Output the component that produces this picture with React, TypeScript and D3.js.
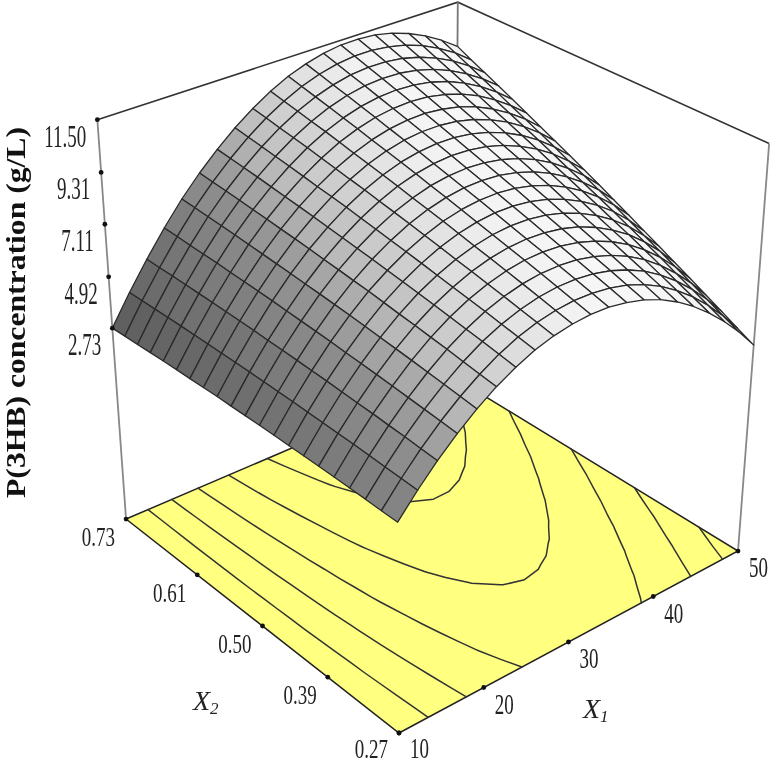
import * as d3 from "d3";

// response surface: rows are X1 = 10..50, columns are X2 = 0.27..0.73
const x1Grid = d3.range(21).map((i) => 10 + 2 * i);
const x2Grid = d3.range(21).map((j) => 0.27 + 0.023 * j);
const zGrid = [
  [2.87,2.88,2.90,2.91,2.92,2.93,2.93,2.93,2.93,2.93,2.92,2.91,2.91,2.89,2.87,2.86,2.84,2.81,2.78,2.76,2.73],
  [3.76,3.79,3.82,3.85,3.88,3.90,3.92,3.94,3.96,3.97,3.98,3.99,4.00,4.00,4.00,4.00,4.00,3.99,3.98,3.97,3.96],
  [4.56,4.61,4.66,4.70,4.75,4.78,4.82,4.86,4.89,4.92,4.95,4.97,5.00,5.02,5.03,5.05,5.06,5.07,5.08,5.08,5.09],
  [5.27,5.34,5.40,5.46,5.52,5.58,5.63,5.68,5.74,5.78,5.82,5.86,5.91,5.94,5.97,6.00,6.04,6.06,6.08,6.11,6.13],
  [5.89,5.97,6.05,6.13,6.21,6.28,6.35,6.42,6.49,6.55,6.61,6.66,6.72,6.77,6.82,6.87,6.92,6.96,7.00,7.04,7.08],
  [6.42,6.51,6.61,6.71,6.80,6.89,6.97,7.06,7.15,7.22,7.30,7.37,7.45,7.52,7.58,7.65,7.71,7.77,7.83,7.88,7.94],
  [6.85,6.97,7.08,7.19,7.30,7.41,7.51,7.61,7.71,7.81,7.90,7.99,8.08,8.17,8.25,8.33,8.41,8.49,8.56,8.63,8.70],
  [7.20,7.33,7.46,7.59,7.71,7.83,7.95,8.07,8.19,8.30,8.41,8.52,8.63,8.73,8.82,8.92,9.02,9.11,9.20,9.29,9.38],
  [7.45,7.60,7.74,7.89,8.03,8.17,8.30,8.44,8.57,8.70,8.83,8.95,9.08,9.19,9.31,9.42,9.54,9.65,9.75,9.86,9.96],
  [7.61,7.77,7.94,8.10,8.26,8.41,8.56,8.72,8.87,9.01,9.15,9.30,9.44,9.57,9.70,9.84,9.97,10.09,10.21,10.33,10.46],
  [7.68,7.86,8.04,8.22,8.40,8.56,8.73,8.90,9.07,9.23,9.39,9.55,9.71,9.85,10.00,10.15,10.30,10.44,10.58,10.72,10.86],
  [7.66,7.85,8.05,8.24,8.44,8.62,8.81,9.00,9.18,9.36,9.53,9.71,9.88,10.05,10.21,10.38,10.54,10.70,10.85,11.01,11.16],
  [7.54,7.76,7.97,8.18,8.39,8.59,8.80,9.00,9.20,9.39,9.58,9.78,9.97,10.15,10.33,10.51,10.69,10.87,11.04,11.21,11.38],
  [7.34,7.57,7.80,8.02,8.25,8.47,8.69,8.91,9.13,9.34,9.54,9.75,9.96,10.16,10.36,10.56,10.75,10.94,11.13,11.32,11.51],
  [7.04,7.29,7.53,7.78,8.02,8.26,8.49,8.73,8.96,9.19,9.41,9.64,9.86,10.08,10.29,10.51,10.72,10.93,11.13,11.34,11.54],
  [6.65,6.92,7.18,7.44,7.70,7.95,8.20,8.45,8.71,8.95,9.19,9.43,9.67,9.91,10.14,10.37,10.60,10.82,11.04,11.26,11.49],
  [6.17,6.45,6.73,7.01,7.29,7.55,7.82,8.09,8.36,8.62,8.88,9.13,9.39,9.64,9.89,10.14,10.39,10.62,10.86,11.10,11.34],
  [5.60,5.90,6.19,6.49,6.78,7.07,7.35,7.64,7.92,8.20,8.47,8.75,9.02,9.29,9.55,9.82,10.08,10.33,10.59,10.85,11.10],
  [4.94,5.25,5.56,5.87,6.19,6.49,6.79,7.09,7.39,7.68,7.97,8.27,8.56,8.84,9.12,9.40,9.68,9.95,10.23,10.49,10.77],
  [4.19,4.51,4.84,5.17,5.50,5.82,6.13,6.45,6.77,7.08,7.39,7.69,8.00,8.30,8.60,8.89,9.19,9.48,9.77,10.06,10.34],
  [3.34,3.68,4.03,4.37,4.72,5.05,5.39,5.72,6.06,6.38,6.71,7.03,7.35,7.67,7.98,8.30,8.61,8.92,9.22,9.51,9.83],
];

const contourLevels = [4.2, 5.65, 7.1, 8.55, 10];
const zTicks = [2.73, 4.92, 7.11, 9.31, 11.5];
const x1Ticks = [10, 20, 30, 40, 50];
const x2Ticks = [0.27, 0.39, 0.5, 0.61, 0.73];
const zLabels = ["2.73", "4.92", "7.11", "9.31", "11.50"];
const x1Labels = ["10", "20", "30", "40", "50"];
const x2Labels = ["0.27", "0.39", "0.50", "0.61", "0.73"];

const width = 774;
const height = 764;

// box coordinates 0..1 for each axis
const uScale = d3.scaleLinear([10, 50], [0, 1]);
const vScale = d3.scaleLinear([0.27, 0.73], [0, 1]);
const wScale = d3.scaleLinear([2.73, 7.11, 11.5], [0.496, 0.748, 0.99]);
const grayScale = d3
  .scaleLinear([0.3, 0.43, 0.5, 0.61, 0.75, 0.9, 1], [94, 128, 146, 188, 220, 242, 250])
  .clamp(true);

type Pt = [number, number];

// perspective camera fitted to the corners of the box
function projectBox(u: number, v: number, w: number): Pt {
  const d = 1 + 0.1248 * u + 0.1377 * v - 0.101 * w;
  return [
    (399 + 431.1 * u - 255.6 * v - 42.8 * w) / d,
    (733 - 113.2 * u - 142.5 * v - 471 * w) / d,
  ];
}
const project = (x1: number, x2: number, z: number) =>
  projectBox(uScale(x1), vScale(x2), wScale(z));
const floorPt = (x1: number, x2: number) => projectBox(uScale(x1), vScale(x2), 0);

const line = d3.line();

// one gray per mesh cell from its slope
function cellGray(i: number, j: number) {
  const dz1 = (zGrid[i + 1][j] + zGrid[i + 1][j + 1] - zGrid[i][j] - zGrid[i][j + 1]) / 2;
  const dz2 = (zGrid[i][j + 1] + zGrid[i + 1][j + 1] - zGrid[i][j] - zGrid[i + 1][j]) / 2;
  const p = dz1 * 20 * 0.0575;
  const q = dz2 * 20 * 0.0575;
  const shade = (-0.3 * p + 0.95) / Math.sqrt(1 + p * p + q * q);
  const g = Math.round(grayScale(shade));
  return `rgb(${g},${g},${g})`;
}

const cells = d3
  .cross(d3.range(20), d3.range(20))
  .sort((a, b) => b[0] + b[1] - a[0] - a[1])
  .map(([i, j]) => ({
    key: `${i}-${j}`,
    fill: cellGray(i, j),
    d:
      line([
        project(x1Grid[i], x2Grid[j], zGrid[i][j]),
        project(x1Grid[i + 1], x2Grid[j], zGrid[i + 1][j]),
        project(x1Grid[i + 1], x2Grid[j + 1], zGrid[i + 1][j + 1]),
        project(x1Grid[i], x2Grid[j + 1], zGrid[i][j + 1]),
      ]) + "Z",
  }));

// marching squares on the grid, drawn on the floor
function contourPath(level: number) {
  let d = "";
  for (let i = 0; i < 20; i++) {
    for (let j = 0; j < 20; j++) {
      const corners = [
        [i, j],
        [i + 1, j],
        [i + 1, j + 1],
        [i, j + 1],
      ];
      const hits: Pt[] = [];
      corners.forEach((a, k) => {
        const b = corners[(k + 1) % 4];
        const za = zGrid[a[0]][a[1]];
        const zb = zGrid[b[0]][b[1]];
        if (za < level !== zb < level) {
          const t = (level - za) / (zb - za);
          hits.push(
            floorPt(
              x1Grid[a[0]] + t * (x1Grid[b[0]] - x1Grid[a[0]]),
              x2Grid[a[1]] + t * (x2Grid[b[1]] - x2Grid[a[1]])
            )
          );
        }
      });
      for (let k = 0; k + 1 < hits.length; k += 2) {
        d += line([hits[k], hits[k + 1]]);
      }
    }
  }
  return d;
}

const cornerA = floorPt(10, 0.27);
const cornerB = floorPt(50, 0.27);
const cornerC = floorPt(10, 0.73);
const cornerD = floorPt(50, 0.73);
const topC = project(10, 0.73, 11.5);
const topD = projectBox(1, 1, 1.008);
const topB = projectBox(1, 0, 1.004);

// tick dots sit evenly along the two front edges
const x1TickPos = (t: number): Pt => [
  d3.scaleLinear([10, 50], [cornerA[0], cornerB[0]])(t),
  d3.scaleLinear([10, 50], [cornerA[1], cornerB[1]])(t),
];
const x2TickPos = (t: number): Pt => [
  d3.scaleLinear([0.27, 0.73], [cornerA[0], cornerC[0]])(t),
  d3.scaleLinear([0.27, 0.73], [cornerA[1], cornerC[1]])(t),
];

const labelFont = "'Liberation Serif', 'Times New Roman', serif";

function Label({ x, y, text, sy, size = 19 }: { x: number; y: number; text: string; sy: number; size?: number }) {
  return (
    <text
      transform={`translate(${x},${y}) scale(1,${sy})`}
      textAnchor="end"
      fontFamily={labelFont}
      fontSize={size}
      fill="#222"
    >
      {text}
    </text>
  );
}

export default function App() {
  return (
    <svg
      width={width}
      height={height}
      style={{ position: "absolute", left: 0, top: 0, display: "block", background: "#fff", filter: "blur(0.5px)" }}
    >
      {/* back of the box */}
      <path d={line([topC, topD, topB])!} fill="none" stroke="#333" strokeWidth={1.6} />
      <path d={line([topC, cornerC])!} fill="none" stroke="#888" strokeWidth={1.8} />
      <path d={line([topB, cornerB])!} fill="none" stroke="#888" strokeWidth={1.8} />
      <path d={line([topD, cornerD])!} fill="none" stroke="#777" strokeWidth={1.8} />

      {/* floor with contours */}
      <path
        d={line([cornerA, cornerB, cornerD, cornerC])! + "Z"}
        fill="#ffff80"
        stroke="#222"
        strokeWidth={1.5}
      />
      {contourLevels.map((lv) => (
        <path key={lv} d={contourPath(lv)} fill="none" stroke="#333" strokeWidth={1.5} strokeLinecap="round" />
      ))}

      {/* surface mesh */}
      {cells.map((c) => (
        <path key={c.key} d={c.d} fill={c.fill} stroke="#2a2a2a" strokeWidth={1.3} strokeLinejoin="round" />
      ))}

      {/* tick dots */}
      {zTicks.map((t) => {
        const [x, y] = project(10, 0.73, t);
        return <circle key={t} cx={x} cy={y} r={2.4} fill="#111" />;
      })}
      {x1Ticks.map((t) => {
        const [x, y] = x1TickPos(t);
        return <circle key={t} cx={x} cy={y} r={2.4} fill="#111" />;
      })}
      {x2Ticks.map((t) => {
        const [x, y] = x2TickPos(t);
        return <circle key={t} cx={x} cy={y} r={2.4} fill="#111" />;
      })}

      {/* tick labels */}
      {zTicks.map((t, i) => {
        const [x, y] = project(10, 0.73, t);
        return <Label key={t} x={x - 11} y={y + 27} text={zLabels[i]} sy={1.7} />;
      })}
      {x1Ticks.map((t, i) => {
        const [x, y] = x1TickPos(t);
        return <Label key={t} x={x + 30} y={Math.min(y + 26, 758)} text={x1Labels[i]} sy={1.5} />;
      })}
      {x2Ticks.map((t, i) => {
        const [x, y] = x2TickPos(t);
        return <Label key={t} x={x - 11} y={Math.min(y + 27, 758)} text={x2Labels[i]} sy={1.4} />;
      })}

      {/* axis titles */}
      <text x={583} y={718} fontFamily={labelFont} fontStyle="italic" fontSize={28} fill="#222">
        X<tspan fontSize={17} dy={4}>1</tspan>
      </text>
      <text x={193} y={710} fontFamily={labelFont} fontStyle="italic" fontSize={28} fill="#222">
        X<tspan fontSize={17} dy={4}>2</tspan>
      </text>
      <text
        transform="translate(24.5,498) rotate(-90)"
        fontFamily={labelFont}
        fontWeight="bold"
        fontSize={27}
        textLength={371}
        lengthAdjust="spacingAndGlyphs"
        fill="#111"
      >
        P(3HB) concentration (g/L)
      </text>
    </svg>
  );
}
